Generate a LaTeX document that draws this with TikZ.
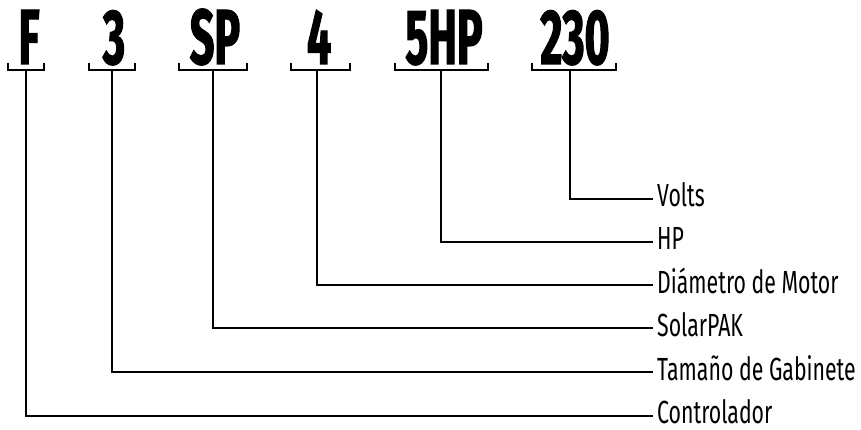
\documentclass[tikz,border=0pt]{standalone}
\usepackage{fontspec}
\newfontfamily\codefont[FakeStretch=0.55,BoldFeatures={FakeBold=1.4}]{Fira Sans}
\newfontfamily\labfont[FakeStretch=0.665]{Fira Sans}
\begin{document}
\begin{tikzpicture}[x=1pt,y=-1pt,
  code/.style={anchor=base,inner sep=0pt,font=\codefont\bfseries\fontsize{78}{78}\selectfont},
  lab/.style={anchor=base west,inner sep=0pt,font=\labfont\fontsize{32}{32}\selectfont},
  brk/.style={line width=2.6pt},
  conn/.style={line width=2.8pt}]
\useasboundingbox (0,0) rectangle (861,430);
% codes
\node[code] (cF) at (29,64) {F};
\node[code] (c3) at (114,64) {3};
\node[code] (cSP) at (215,64) {SP};
\node[code] (c4) at (319,64) {4};
\node[code] (c5HP) at (444,64) {5HP};
\node[code] (c230) at (575,64) {230};
% brackets
\draw[brk] (8,63) -- (8,70) -- (44,70) -- (44,63);
\draw[brk] (89,63) -- (89,70) -- (135,70) -- (135,63);
\draw[brk] (179,63) -- (179,70) -- (247,70) -- (247,63);
\draw[brk] (291,63) -- (291,70) -- (350,70) -- (350,63);
\draw[brk] (395,63) -- (395,70) -- (488,70) -- (488,63);
\draw[brk] (532,63) -- (532,70) -- (616,70) -- (616,63);
% bracket connection points
\coordinate (bF) at (26,70);
\coordinate (b3) at (112,70);
\coordinate (bSP) at (213,70);
\coordinate (b4) at (317,70);
\coordinate (b5HP) at (441,70);
\coordinate (b230) at (570,70);
% line ends
\coordinate (e230) at (653,199);
\coordinate (e5HP) at (653,242);
\coordinate (e4) at (653,285);
\coordinate (eSP) at (653,328);
\coordinate (e3) at (653,372);
\coordinate (eF) at (653,416);
% labels
\node[lab] (l230) at (657,207) {Volts};
\node[lab] (l5HP) at (657,250) {HP};
\node[lab] (l4) at (657,293) {Diámetro de Motor};
\node[lab] (lSP) at (657,336) {SolarPAK};
\node[lab] (l3) at (657,380) {Tamaño de Gabinete};
\node[lab] (lF) at (657,423) {Controlador};
% connectors
\draw[conn] (b230) |- (e230);
\draw[conn] (b5HP) |- (e5HP);
\draw[conn] (b4) |- (e4);
\draw[conn] (bSP) |- (eSP);
\draw[conn] (b3) |- (e3);
\draw[conn] (bF) |- (eF);
\end{tikzpicture}
\end{document}
